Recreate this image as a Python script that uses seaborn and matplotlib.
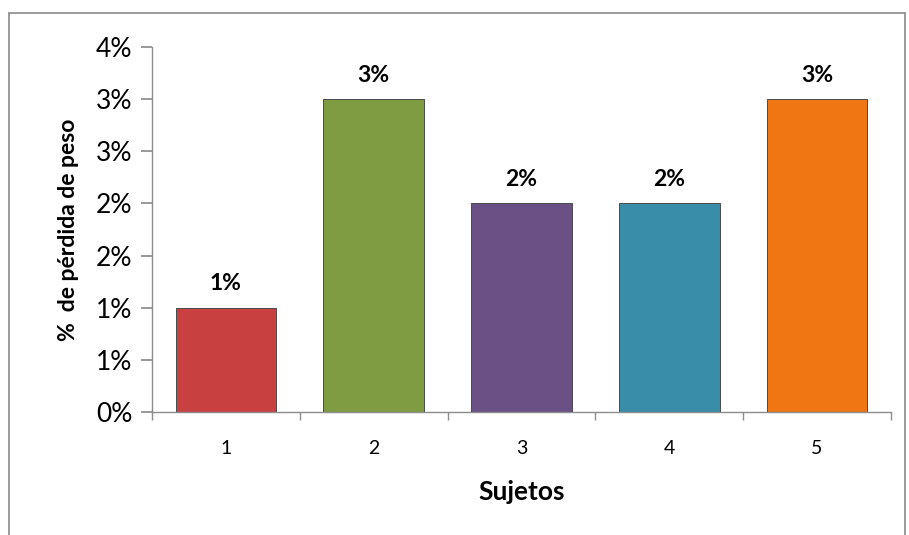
import matplotlib
matplotlib.use("Agg")
import matplotlib.pyplot as plt
import seaborn as sns
import pandas as pd
import numpy as np
from matplotlib.lines import Line2D

sujetos = ["1", "2", "3", "4", "5"]
perdida = [1.0, 3.0, 2.0, 2.0, 3.0]
bar_labels = ["1%", "3%", "2%", "2%", "3%"]
colors = ["#C8403F", "#7F9C42", "#6A5085", "#3A8DA8", "#F07614"]
y_ticks = [0, 0.5, 1.0, 1.5, 2.0, 2.5, 3.0, 3.5]
y_ticklabels = ["0%", "1%", "1%", "2%", "2%", "3%", "3%", "4%"]

sns.set_theme(style="white")
plt.rcParams["font.family"] = ["Lato", "DejaVu Sans"]
plt.rcParams["text.color"] = "black"
plt.rcParams["axes.labelcolor"] = "black"
plt.rcParams["xtick.color"] = "black"
plt.rcParams["ytick.color"] = "black"

df = pd.DataFrame({"Sujetos": sujetos, "Perdida": perdida})

fig = plt.figure(figsize=(9.09, 5.35), dpi=100)
ax = fig.add_axes([152/909, 1-412/535, (891-152)/909, (412-47)/535])

sns.barplot(data=df, x="Sujetos", y="Perdida", hue="Sujetos", palette=colors,
            width=0.68, legend=False, ax=ax, saturation=1,
            edgecolor="#4a4a4a", linewidth=0.7)

for p, lab in zip(ax.patches, bar_labels):
    ax.text(p.get_x() + p.get_width()/2, p.get_height() + 0.13, lab,
            ha="center", va="bottom", fontsize=16.5, fontweight="bold", color="black")

ax.set_ylim(0, 3.5)
ax.set_xlim(-0.5, 4.5)
ax.set_yticks(y_ticks)
ax.set_yticklabels(y_ticklabels, fontsize=19)
ax.set_xticks(range(len(sujetos)))
ax.set_xticklabels(sujetos, fontsize=14)
ax.set_xticks(np.arange(-0.5, 5, 1), minor=True)
ax.tick_params(axis="x", which="major", length=0, pad=20, colors="black")
ax.tick_params(axis="x", which="minor", length=6, direction="out", color="#8c8c8c", bottom=True)
ax.tick_params(axis="y", length=8, direction="out", color="#8c8c8c", labelcolor="black", left=True, pad=6)

ax.set_xlabel("Sujetos", fontsize=19, fontweight="bold", labelpad=17)
ax.set_ylabel("%  de pérdida de peso", fontsize=16.5, fontweight="bold", labelpad=12)

for s in ["top", "right"]:
    ax.spines[s].set_visible(False)
for s in ["left", "bottom"]:
    ax.spines[s].set_color("#8c8c8c")
    ax.spines[s].set_linewidth(1)

# outer chart border
bx0, by0 = 9/909, 1 - 13/535
bx1 = 905/909
fig.add_artist(Line2D([bx0, bx0], [0, by0], transform=fig.transFigure, color="#8a8a8a", lw=1.2))
fig.add_artist(Line2D([bx0, bx1], [by0, by0], transform=fig.transFigure, color="#8a8a8a", lw=1.2))
fig.add_artist(Line2D([bx1, bx1], [0, by0], transform=fig.transFigure, color="#8a8a8a", lw=1.2))

fig.savefig("out.png", dpi=100)
